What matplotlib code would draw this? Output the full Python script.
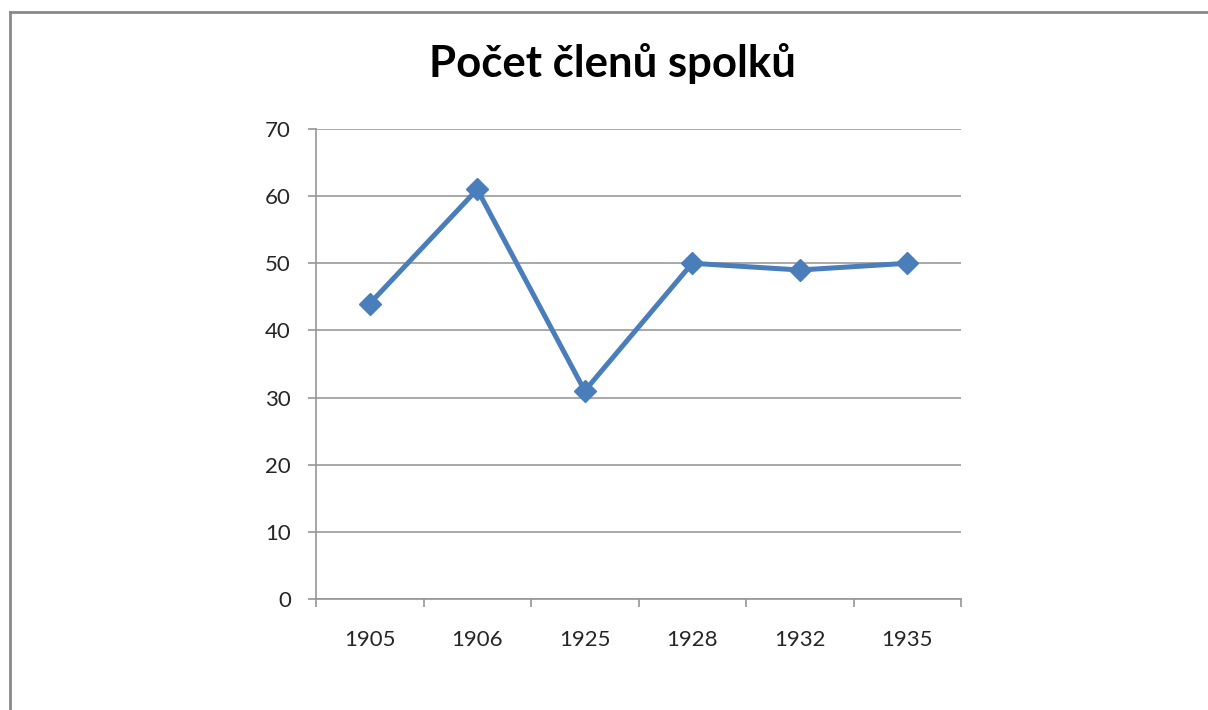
import matplotlib
matplotlib.use("Agg")
import matplotlib.pyplot as plt
from matplotlib.lines import Line2D

# data
years = ["1905", "1906", "1925", "1928", "1932", "1935"]
members = [44, 61, 31, 50, 49, 50]
yticks = [0, 10, 20, 30, 40, 50, 60, 70]

plt.rcParams['font.family'] = ['Lato', 'DejaVu Sans']

fig = plt.figure(figsize=(12.08, 7.10), dpi=100)
ax = fig.add_axes([316/1208, 1 - 599/710, 645/1208, 470/710])

x = list(range(len(years)))
ax.plot(x, members, color="#4a7ebb", lw=3.6, marker="D", ms=11,
        markerfacecolor="#4a7ebb", markeredgecolor="#4a7ebb", zorder=3)

ax.set_xlim(-0.5, len(years) - 0.5)
ax.set_ylim(0, 70)
ax.set_yticks(yticks)
ax.set_xticks([i - 0.5 for i in range(len(years) + 1)])
ax.set_xticklabels([])
ax.set_xticks(x, minor=True)
ax.set_xticklabels(years, minor=True)
ax.tick_params(axis="x", which="major", length=6, color="#969696", width=1.2)
ax.tick_params(axis="x", which="minor", length=0, pad=22, labelsize=16, labelcolor="#262626")
ax.tick_params(axis="y", length=6, color="#969696", width=1.2, pad=12,
               labelsize=16, labelcolor="#262626")

ax.grid(axis="y", color="#9a9a9a", lw=1.2)
ax.set_axisbelow(True)
for s in ["top", "right"]:
    ax.spines[s].set_visible(False)
for s in ["left", "bottom"]:
    ax.spines[s].set_color("#969696")
    ax.spines[s].set_linewidth(1.2)

fig.text(612/1208, 1 - 64/710, "Počet členů spolků", ha="center", va="center",
         fontsize=31.5, fontweight="bold", color="black")

# outer chart border (left and top only visible)
fig.add_artist(Line2D([9.5/1208, 9.5/1208], [0, 1 - 12/710], color="#8a8a8a", lw=2))
fig.add_artist(Line2D([9.5/1208, 1], [1 - 12/710, 1 - 12/710], color="#8a8a8a", lw=2))

fig.savefig("out.png", dpi=100)
